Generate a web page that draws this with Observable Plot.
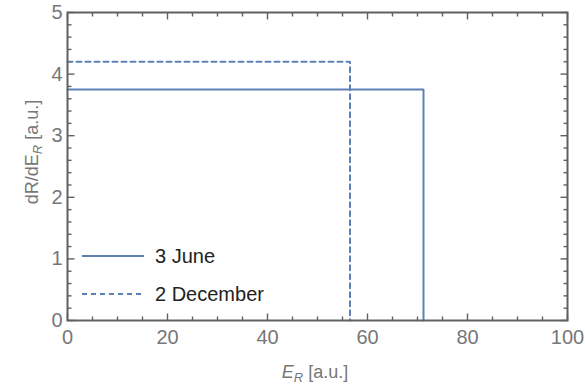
<!DOCTYPE html>
<html>
<head>
<meta charset="utf-8">
<script src="https://cdn.jsdelivr.net/npm/d3@7"></script>
<script src="https://cdn.jsdelivr.net/npm/@observablehq/plot@0.6"></script>
<style>
  html, body { margin: 0; padding: 0; background: #fff; }
  #wrap { position: relative; width: 585px; height: 386px; font-family: "Liberation Sans", Arial, sans-serif; }
  #legend { position: absolute; left: 82px; top: 237px; font-size: 20px; color: #222; }
  .row { display: flex; align-items: center; height: 38px; }
  .row svg { margin-right: 11px; }
</style>
</head>
<body>
<div id="wrap"></div>
<script>
// Data
const seriesNames = ["3 June", "2 December"];
const cutoffs = [71.2, 56.5];      // E_R where the rate drops to 0
const levels = [3.75, 4.2];        // dR/dE_R plateau
const dashes = [null, "5,4"];
const xMajor = [0, 20, 40, 60, 80, 100];
const xMinor = d3.range(0, 101, 5);
const yMajor = [0, 1, 2, 3, 4, 5];
const yMinor = d3.range(0, 5.01, 0.2);
const xDomain = [0, 100];
const yDomain = [0, 5];

const color = "#5e81b5";
const gray = "#606060";

const W = 585, H = 386, mL = 67, mR = 18, mT = 12, mB = 66;
const pw = W - mL - mR, ph = H - mT - mB;
// convert a pixel length into data units
const xu = px => px * (xDomain[1] - xDomain[0]) / pw;
const yu = px => px * (yDomain[1] - yDomain[0]) / ph;

const steps = seriesNames.map((name, i) => ({
  name,
  pts: [{x: 0, y: levels[i]}, {x: cutoffs[i], y: levels[i]}, {x: cutoffs[i], y: 0}],
  dash: dashes[i]
}));

// inward ticks on all four sides (major longer than minor)
const tickRows = [];
for (const v of xMinor) {
  const len = xMajor.includes(v) ? 7 : 4;
  tickRows.push({x1: v, x2: v, y1: yDomain[0], y2: yDomain[0] + yu(len)});
  tickRows.push({x1: v, x2: v, y1: yDomain[1], y2: yDomain[1] - yu(len)});
}
for (const v of yMinor) {
  const len = yMajor.some(m => Math.abs(m - v) < 1e-9) ? 7 : 4;
  tickRows.push({y1: v, y2: v, x1: xDomain[0], x2: xDomain[0] + xu(len)});
  tickRows.push({y1: v, y2: v, x1: xDomain[1], x2: xDomain[1] - xu(len)});
}

const marks = [
  Plot.link(tickRows, {x1: "x1", x2: "x2", y1: "y1", y2: "y2", stroke: gray, strokeWidth: 1.4}),
  Plot.axisX({ticks: xMajor, tickSize: 0, tickPadding: 9, fontSize: 20, fill: "#777", label: null, tickFormat: d => String(d)}),
  Plot.axisY({ticks: yMajor, tickSize: 0, tickPadding: 5, fontSize: 20, fill: "#777", label: null, tickFormat: d => String(d)}),
  ...steps.map(s => Plot.line(s.pts, {x: "x", y: "y", stroke: color, strokeWidth: 2, strokeDasharray: s.dash, strokeLinejoin: "miter"})),
  Plot.frame({stroke: gray, strokeWidth: 2})
];

const chart = Plot.plot({
  width: W,
  height: H,
  marginLeft: mL,
  marginRight: mR,
  marginTop: mT,
  marginBottom: mB,
  style: {fontFamily: "'Liberation Sans', Arial, sans-serif", background: "#fff"},
  x: {domain: xDomain},
  y: {domain: yDomain},
  marks
});

const wrap = document.getElementById("wrap");
wrap.appendChild(chart);

// axis labels with subscripts
const svg = d3.select(chart);
const xl = svg.append("text")
  .attr("x", 315).attr("y", 378)
  .attr("text-anchor", "middle")
  .attr("font-size", 18).attr("fill", "#777");
xl.append("tspan").attr("font-style", "italic").text("E");
xl.append("tspan").attr("font-style", "italic").attr("font-size", 13).attr("dy", 4).text("R");
xl.append("tspan").attr("dy", -4).text(" [a.u.]");

const yl = svg.append("text")
  .attr("transform", "translate(38,152) rotate(-90)")
  .attr("text-anchor", "middle")
  .attr("font-size", 18).attr("fill", "#777");
yl.append("tspan").text("dR/dE");
yl.append("tspan").attr("font-style", "italic").attr("font-size", 13).attr("dy", 4).text("R");
yl.append("tspan").attr("dy", -4).text(" [a.u.]");

// legend
const legend = document.createElement("div");
legend.id = "legend";
steps.forEach(s => {
  const row = document.createElement("div");
  row.className = "row";
  row.innerHTML = `<svg width="62" height="6"><line x1="0" y1="3" x2="62" y2="3" stroke="${color}" stroke-width="2" ${s.dash ? `stroke-dasharray="${s.dash}"` : ""}/></svg><span>${s.name}</span>`;
  legend.appendChild(row);
});
wrap.appendChild(legend);
</script>
</body>
</html>
